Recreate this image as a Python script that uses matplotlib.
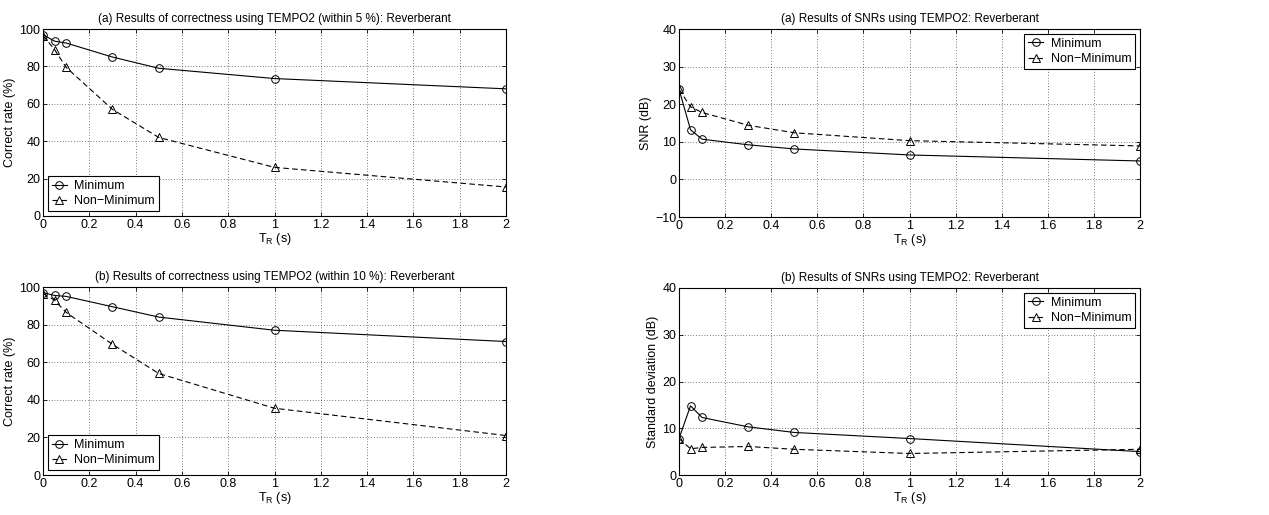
import numpy as np
import matplotlib.pyplot as plt

plt.rcParams['font.family'] = ['Liberation Sans', 'DejaVu Sans']
plt.rcParams['font.size'] = 9

tr = [0, 0.05, 0.1, 0.3, 0.5, 1, 2]

correct5_min = [97, 93.5, 92.5, 85, 79, 73.5, 68]
correct5_nonmin = [96.5, 89, 79.5, 57, 42, 26, 15.5]

correct10_min = [97, 95.5, 95, 89.5, 84, 77, 71]
correct10_nonmin = [96.5, 93, 86.5, 69.5, 54, 35.5, 21]

snr_min = [24, 13.2, 10.7, 9.2, 8.1, 6.5, 4.9]
snr_nonmin = [24, 19.3, 17.8, 14.4, 12.4, 10.3, 8.9]

std_min = [7.8, 14.8, 12.3, 10.3, 9.1, 7.8, 5.0]
std_nonmin = [7.8, 5.6, 5.9, 6.1, 5.5, 4.6, 5.5]

W, H = 1269, 515
fig = plt.figure(figsize=(W / 100, H / 100), dpi=100)


def make_ax(left, top, right, bottom):
    return fig.add_axes([left / W, 1 - bottom / H, (right - left) / W, (bottom - top) / H])


panels = [
    (make_ax(43, 29, 506, 216), correct5_min, correct5_nonmin,
     '(a) Results of correctness using TEMPO2 (within 5 %): Reverberant',
     'Correct rate (%)', (0, 100), np.arange(0, 101, 20), 'lower left'),
    (make_ax(679, 29, 1140, 217), snr_min, snr_nonmin,
     '(a) Results of SNRs using TEMPO2: Reverberant',
     'SNR (dB)', (-10, 40), np.arange(-10, 41, 10), 'upper right'),
    (make_ax(43, 287, 506, 475), correct10_min, correct10_nonmin,
     '(b) Results of correctness using TEMPO2 (within 10 %): Reverberant',
     'Correct rate (%)', (0, 100), np.arange(0, 101, 20), 'lower left'),
    (make_ax(679, 288, 1140, 475), std_min, std_nonmin,
     '(b) Results of SNRs using TEMPO2: Reverberant',
     'Standard deviation (dB)', (0, 40), np.arange(0, 41, 10), 'upper right'),
]

for ax, ymin, ynon, title, ylabel, ylim, yticks, loc in panels:
    ax.plot(tr, ymin, color='black', linestyle='-', linewidth=0.8,
            marker='o', markersize=5.5, markerfacecolor='none', markeredgewidth=0.7,
            label='Minimum')
    ax.plot(tr, ynon, color='black', linestyle=(0, (5, 3)), linewidth=0.8,
            marker='^', markersize=6, markerfacecolor='none', markeredgewidth=0.7,
            label='Non\u2212Minimum')
    ax.set_xlim(0, 2)
    ax.set_ylim(*ylim)
    ax.set_xticks(np.arange(0, 2.01, 0.2))
    ax.set_xticklabels(['0', '0.2', '0.4', '0.6', '0.8', '1', '1.2', '1.4', '1.6', '1.8', '2'])
    ax.set_yticks(yticks)
    ax.grid(True, linestyle=(0, (1, 3)), color='black', linewidth=0.5)
    ax.tick_params(direction='in', length=3, width=0.6, top=True, right=True, pad=2)
    for s in ax.spines.values():
        s.set_linewidth(0.8)
    ax.set_title(title, fontsize=8.5, pad=5)
    ax.set_xlabel('T$_\\mathregular{R}$ (s)', labelpad=0)
    ax.set_ylabel(ylabel, labelpad=2)
    leg = ax.legend(loc=loc, fancybox=False, edgecolor='black', framealpha=1,
                    borderaxespad=0.4, handlelength=1.2, handletextpad=0.6,
                    borderpad=0.3, labelspacing=0.25)
    leg.get_frame().set_linewidth(0.8)

fig.savefig('out.png', dpi=100)
